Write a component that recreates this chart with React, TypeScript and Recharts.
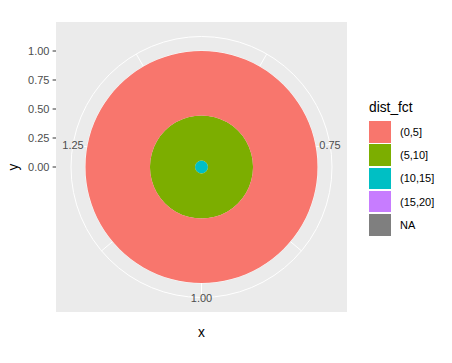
import React from 'react';
import {
  RadialBarChart,
  RadialBar,
  PolarAngleAxis,
  PolarRadiusAxis,
  PolarGrid,
  Legend,
} from 'recharts';

// ---- data ----
const categories = ['(0,5]', '(5,10]', '(10,15]', '(15,20]', 'NA'];
const counts = [10, 7, 1, 0, 0];
const fillColors = ['#F8766D', '#7CAE00', '#00BFC4', '#C77CFF', '#7F7F7F'];
const xValue = 1;
const yTicks = [0, 0.25, 0.5, 0.75, 1];
const thetaMajor = [0.75, 1, 1.25];
const thetaMinor = [0.625, 0.875, 1.125, 1.375];
const thetaDomain: [number, number] = [0.55, 1.45];
const rDomain: [number, number] = [0, 1.125];

// position = "fill" table
const total = counts.reduce((a, b) => a + b, 0);
const row: Record<string, number | string> = { x: String(xValue) };
categories.forEach((_, i) => {
  row[`s${i}`] = counts[i] / total;
});
const data = [row];
// stacking: last level innermost, first level outermost (as ggplot)
const stackOrder = categories.map((_, i) => i).reverse();

// polar geometry (chart settings)
const CX = 201.5;
const CY = 167;
const OUTER = 130.5;
const START_ANGLE = 90;
const END_ANGLE = -270;

// theta scale (linear, like the chart's angle range)
const thetaToAngle = (v: number) =>
  START_ANGLE + ((v - thetaDomain[0]) / (thetaDomain[1] - thetaDomain[0])) * (END_ANGLE - START_ANGLE);
const thetaAngles = [...thetaMajor, ...thetaMinor].sort((a, b) => a - b).map(thetaToAngle);

const FONT = '"Liberation Sans", Arial, sans-serif';

const RadiusTick = (p: any) => {
  const v = p?.payload?.value;
  return (
    <g>
      <line x1={52.6} x2={56} y1={p.y} y2={p.y} stroke="#333333" strokeWidth={1} />
      <text
        x={49.5}
        y={p.y}
        textAnchor="end"
        dominantBaseline="central"
        fill="#4D4D4D"
        fontSize={11}
        fontFamily={FONT}
      >
        {Number(v).toFixed(2)}
      </text>
    </g>
  );
};

const LegendContent = () => (
  <div style={{ position: 'relative', width: 85, height: 140, fontFamily: FONT }}>
    <div
      style={{
        position: 'absolute',
        left: 0,
        top: 0,
        fontSize: 13.75,
        lineHeight: '18px',
        color: '#000',
        whiteSpace: 'nowrap',
      }}
    >
      dist_fct
    </div>
    {categories.map((c, i) => (
      <div
        key={c}
        style={{
          position: 'absolute',
          left: 0,
          top: 22 + i * 23.3,
          height: 21.6,
          display: 'flex',
          alignItems: 'center',
          whiteSpace: 'nowrap',
        }}
      >
        <div style={{ width: 22, height: 21.6, background: fillColors[i] }} />
        <span style={{ marginLeft: 9, fontSize: 11, color: '#000' }}>{c}</span>
      </div>
    ))}
  </div>
);

export default function App() {
  return (
    <div
      style={{
        position: 'absolute',
        left: 0,
        top: 0,
        width: 452,
        height: 363,
        background: '#FFFFFF',
        fontFamily: FONT,
      }}
    >
      <div
        style={{
          position: 'absolute',
          left: 56,
          top: 22,
          width: 291,
          height: 290,
          background: '#EBEBEB',
        }}
      />
      <div style={{ position: 'absolute', left: 0, top: 0 }}>
        <RadialBarChart
          width={452}
          height={363}
          data={data}
          layout="centric"
          cx={CX}
          cy={CY}
          innerRadius={0}
          outerRadius={OUTER}
          startAngle={START_ANGLE}
          endAngle={END_ANGLE}
          barCategoryGap="0%"
          barGap={0}
          margin={{ top: 0, right: 0, bottom: 0, left: 0 }}
        >
          <PolarAngleAxis
            angleAxisId={0}
            type="category"
            dataKey="x"
            tick={false}
            tickLine={false}
            axisLineType="circle"
            axisLine={{ stroke: '#FFFFFF', strokeWidth: 1 }}
            stroke="#FFFFFF"
          />
          <PolarRadiusAxis
            radiusAxisId={0}
            type="number"
            domain={rDomain}
            allowDataOverflow
            ticks={yTicks}
            angle={90}
            axisLine={false}
            tick={RadiusTick}
          />
          <PolarGrid
            gridType="circle"
            angleAxisId={0}
            radiusAxisId={0}
            polarAngles={thetaAngles}
            stroke="#FFFFFF"
            strokeWidth={1}
          />
          {stackOrder.map((i) => (
            <RadialBar
              key={categories[i]}
              dataKey={`s${i}`}
              name={categories[i]}
              stackId="fill"
              fill={fillColors[i]}
              angleAxisId={0}
              radiusAxisId={0}
              isAnimationActive={false}
            />
          ))}
          <Legend
            layout="vertical"
            align="right"
            verticalAlign="middle"
            content={LegendContent}
            wrapperStyle={{ left: 369, top: 99, width: 85, height: 140, right: 'auto', bottom: 'auto' }}
          />
        </RadialBarChart>
      </div>
      {thetaMajor.map((v) => {
        const a = (thetaToAngle(v) * Math.PI) / 180;
        const x = CX + OUTER * Math.cos(a);
        const y = CY - OUTER * Math.sin(a);
        return (
          <div
            key={v}
            style={{
              position: 'absolute',
              left: x,
              top: y + 0.5,
              transform: 'translate(-50%, -50%)',
              fontSize: 11,
              lineHeight: '13px',
              color: '#4D4D4D',
              whiteSpace: 'nowrap',
            }}
          >
            {v.toFixed(2)}
          </div>
        );
      })}
      <div
        style={{
          position: 'absolute',
          left: 191.5,
          width: 20,
          top: 324,
          textAlign: 'center',
          fontSize: 13.75,
          lineHeight: '18px',
          color: '#000',
        }}
      >
        x
      </div>
      <div
        style={{
          position: 'absolute',
          left: 4,
          top: 158,
          width: 20,
          height: 18,
          textAlign: 'center',
          fontSize: 13.75,
          lineHeight: '18px',
          color: '#000',
          transform: 'rotate(-90deg)',
        }}
      >
        y
      </div>
    </div>
  );
}
